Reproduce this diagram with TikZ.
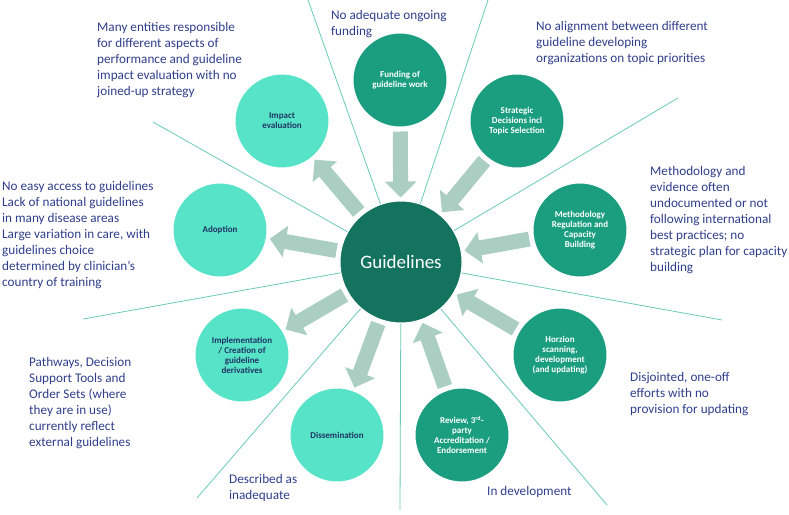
\documentclass[tikz,border=0pt]{standalone}
\usepackage{fontspec}
\setmainfont{Carlito}
\usetikzlibrary{arrows.meta}
\definecolor{gdark}{RGB}{19,115,94}
\definecolor{gmid}{RGB}{27,158,128}
\definecolor{glight}{RGB}{87,227,199}
\definecolor{garrow}{RGB}{170,207,194}
\definecolor{gline}{RGB}{105,202,182}
\definecolor{anncol}{RGB}{47,62,140}
\definecolor{navy}{RGB}{32,52,100}
\begin{document}
\begin{tikzpicture}[x=1pt,y=-1pt,
  sat/.style={circle, minimum size=94pt, inner sep=0pt, draw=white, line width=1pt, align=center, font=\fontsize{9}{10}\selectfont\bfseries},
  darksat/.style={sat, fill=gmid, text=white},
  lightsat/.style={sat, fill=glight, text=navy},
  ray/.style={draw=gline, line width=0.8pt},
  blk/.style={draw=garrow, line width=15pt, -{Triangle[length=16pt,width=31pt]}, shorten <=4pt, shorten >=3pt},
  annot/.style={anchor=north west, align=left, text=anncol, inner sep=0pt, font=\fontsize{13.2}{16}\selectfont}
]
\useasboundingbox (0,0) rectangle (789,514);

% ray end points
\coordinate (e1) at (308,0);
\coordinate (e2) at (488,0);
\coordinate (e3) at (678,98);
\coordinate (e4) at (722,320);
\coordinate (e5) at (607,505);
\coordinate (e6) at (400,510);
\coordinate (e7) at (197,498);
\coordinate (e8) at (83,319);
\coordinate (e9) at (153,122);

% centre
\node[circle, minimum size=122pt, inner sep=0pt, fill=gdark, draw=white, line width=1pt, text=white, font=\fontsize{19}{22}\selectfont] (g) at (401,262) {Guidelines};

% rays
\foreach \e in {e1,e2,e3,e4,e5,e6,e7,e8,e9} \draw[ray] (g) -- (\e);

% satellites
\node[darksat] (fund) at (400,80) {Funding of\\guideline work};
\node[darksat] (strat) at (517,121) {Strategic\\Decisions incl\\Topic Selection};
\node[darksat] (meth) at (580,230) {Methodology\\Regulation and\\Capacity\\Building};
\node[darksat] (hor) at (560,355) {Horzion\\scanning,\\development\\(and updating)};
\node[darksat] (rev) at (462,435) {Review, 3\textsuperscript{rd}-\\party\\Accreditation /\\Endorsement};
\node[lightsat] (diss) at (337,435) {Dissemination};
\node[lightsat] (impl) at (242,355) {Implementation\\/ Creation of\\guideline\\derivatives};
\node[lightsat] (adop) at (220,230) {Adoption};
\node[lightsat] (imp) at (282,121) {Impact\\evaluation};

% block arrows
\draw[blk] (fund) -- (g);
\draw[blk] (strat) -- (g);
\draw[blk] (meth) -- (g);
\draw[blk] (hor) -- (g);
\draw[blk] (rev) -- (g);
\draw[blk] (g) -- (diss);
\draw[blk] (g) -- (impl);
\draw[blk] (g) -- (adop);
\draw[blk] (g) -- (imp);

% annotations
\node[annot] (t1) at (97,22) {Many entities responsible\\for different aspects of\\performance and guideline\\impact evaluation with no\\joined-up strategy};
\node[annot] (t2) at (331,10) {No adequate ongoing\\funding};
\node[annot] (t3) at (536,21) {No alignment between different\\guideline developing\\organizations on topic priorities};
\node[annot] (t4) at (650,166) {Methodology and\\evidence often\\undocumented or not\\following international\\best practices; no\\strategic plan for capacity\\building};
\node[annot] (t5) at (2,181) {No easy access to guidelines\\Lack of national guidelines\\in many disease areas\\Large variation in care, with\\guidelines choice\\determined by clinician’s\\country of training};
\node[annot] (t6) at (29,357) {Pathways, Decision\\Support Tools and\\Order Sets (where\\they are in use)\\currently reflect\\external guidelines};
\node[annot] (t7) at (229,474) {Described as\\inadequate};
\node[annot] (t8) at (487,486) {In development};
\node[annot] (t9) at (630,372) {Disjointed, one-off\\efforts with no\\provision for updating};
\end{tikzpicture}
\end{document}
